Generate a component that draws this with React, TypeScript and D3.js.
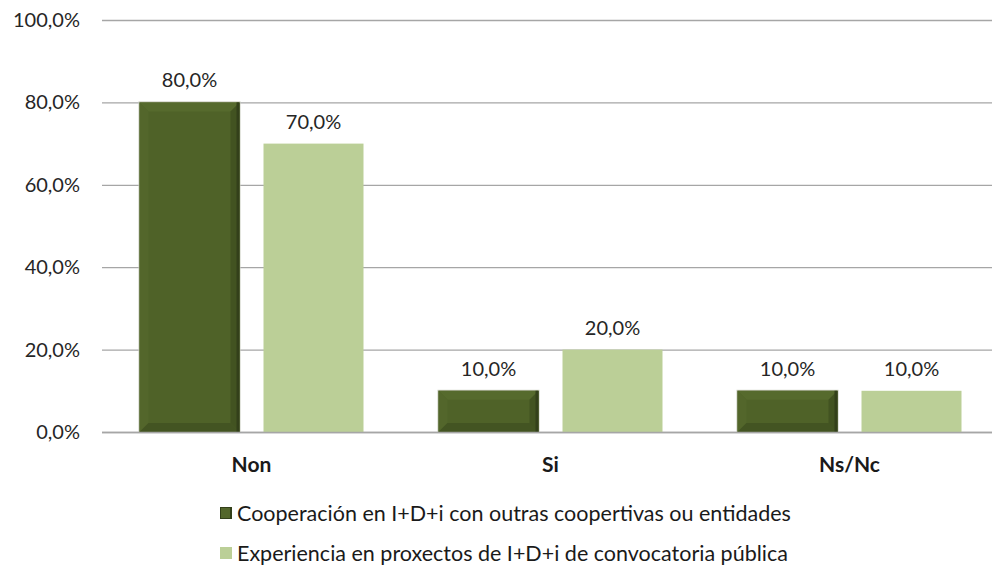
import { useEffect, useRef } from "react"
import * as d3 from "d3"

const categories = ["Non", "Si", "Ns/Nc"]
const seriesNames = [
  "Cooperación en I+D+i con outras coopertivas ou entidades",
  "Experiencia en proxectos de I+D+i de convocatoria pública",
]
const cooperacion = [80, 10, 10]
const experiencia = [70, 20, 10]
const yTicks = [0, 20, 40, 60, 80, 100]

const W = 992
const H = 566
const FONT = "Lato, 'Open Sans', sans-serif"

const App = () => {
  const ref = useRef<SVGSVGElement>(null)

  useEffect(() => {
    const svg = d3.select(ref.current)
    svg.selectAll("*").remove()

    const margin = { top: 20, right: -7, bottom: 134, left: 102 }
    const width = W - margin.left - margin.right
    const height = H - margin.top - margin.bottom

    const g = svg.append("g").attr("transform", `translate(${margin.left},${margin.top})`)

    const x = d3.scaleBand().domain(categories).range([0, width])
    const y = d3.scaleLinear().domain([0, 100]).range([height, 0])
    const inner = d3.scaleBand().domain(["a", "b"]).range([0, 224]).paddingInner(24 / 124)

    const fmt = (v: number) => v.toFixed(1).replace(".", ",") + "%"

    // gridlines
    g.selectAll(".grid")
      .data(yTicks)
      .enter()
      .append("line")
      .attr("x1", 0)
      .attr("x2", width)
      .attr("y1", (d) => y(d) + 0.5)
      .attr("y2", (d) => y(d) + 0.5)
      .attr("stroke", "#a6a6a6")
      .attr("stroke-width", 1.3)

    // y labels
    g.selectAll(".ylab")
      .data(yTicks)
      .enter()
      .append("text")
      .text((d) => fmt(d))
      .attr("x", -22)
      .attr("y", (d) => y(d))
      .attr("dy", "0.35em")
      .attr("text-anchor", "end")
      .attr("font-family", FONT)
      .attr("font-size", "20px")
      .attr("fill", "#262626")

    const offset = (x.bandwidth() - 224) / 2

    // light bars
    g.selectAll(".light")
      .data(experiencia)
      .enter()
      .append("rect")
      .attr("x", (d, i) => x(categories[i])! + offset + inner("b")!)
      .attr("y", (d) => y(d))
      .attr("width", inner.bandwidth())
      .attr("height", (d) => height - y(d))
      .attr("fill", "#bbcf97")

    // dark bevelled bars
    const bev = 9
    cooperacion.forEach((v, i) => {
      const x0 = x(categories[i])! + offset + inner("a")!
      const x1 = x0 + inner.bandwidth()
      const y0 = y(v)
      const y1 = height
      const b = Math.min(bev, (y1 - y0) / 2)
      const bar = g.append("g")
      bar.append("rect")
        .attr("x", x0 - 1).attr("y", y0 - 1)
        .attr("width", x1 - x0 + 2).attr("height", y1 - y0 + 2)
        .attr("fill", "#c8cbbd")
      bar.append("rect")
        .attr("x", x0).attr("y", y0)
        .attr("width", x1 - x0).attr("height", y1 - y0)
        .attr("fill", "#4f6228")
      const poly = (pts: [number, number][], fill: string) =>
        bar.append("polygon").attr("points", pts.map((p) => p.join(",")).join(" ")).attr("fill", fill)
      poly([[x0, y0], [x1, y0], [x1 - b, y0 + b], [x0 + b, y0 + b]], "#566a2d")
      poly([[x0, y0], [x0 + b, y0 + b], [x0 + b, y1 - b], [x0, y1]], "#53662b")
      poly([[x1, y0], [x1, y1], [x1 - b, y1 - b], [x1 - b, y0 + b]], "#425321")
      poly([[x0, y1], [x0 + b, y1 - b], [x1 - b, y1 - b], [x1, y1]], "#435422")
      bar.append("rect")
        .attr("x", x1 - 3).attr("y", y0)
        .attr("width", 3).attr("height", y1 - y0)
        .attr("fill", "#33401a")
    })

    // value labels
    const labels = [
      ...cooperacion.map((v, i) => ({ v, xc: x(categories[i])! + offset + inner("a")! + inner.bandwidth() / 2 })),
      ...experiencia.map((v, i) => ({ v, xc: x(categories[i])! + offset + inner("b")! + inner.bandwidth() / 2 })),
    ]
    g.selectAll(".vlab")
      .data(labels)
      .enter()
      .append("text")
      .text((d) => fmt(d.v))
      .attr("x", (d) => d.xc)
      .attr("y", (d) => y(d.v) - 15)
      .attr("text-anchor", "middle")
      .attr("font-family", FONT)
      .attr("font-size", "20px")
      .attr("fill", "#262626")

    // axis line
    g.append("line")
      .attr("x1", 0).attr("x2", width)
      .attr("y1", height + 0.5).attr("y2", height + 0.5)
      .attr("stroke", "#a6a6a6")
      .attr("stroke-width", 1.5)

    // category labels
    g.selectAll(".xlab")
      .data(categories)
      .enter()
      .append("text")
      .text((d) => d)
      .attr("x", (d) => x(d)! + x.bandwidth() / 2)
      .attr("y", height + 40)
      .attr("text-anchor", "middle")
      .attr("font-family", FONT)
      .attr("font-size", "21px")
      .attr("font-weight", "bold")
      .attr("fill", "#1a1a1a")

    // legend
    const legend = svg.append("g").attr("transform", "translate(220,507)")
    seriesNames.forEach((name, i) => {
      const row = legend.append("g").attr("transform", `translate(0,${i * 40})`)
      if (i === 0) {
        row.append("rect").attr("x", 0).attr("y", 0).attr("width", 12).attr("height", 12).attr("fill", "#33401a")
        row.append("rect").attr("x", 1).attr("y", 1).attr("width", 9).attr("height", 10).attr("fill", "#53662b")
      } else {
        row.append("rect").attr("x", 0).attr("y", 0).attr("width", 12).attr("height", 12).attr("fill", "#bbcf97")
      }
      row.append("text")
        .text(name)
        .attr("x", 17)
        .attr("y", 6)
        .attr("dy", "0.35em")
        .attr("font-family", FONT)
        .attr("font-size", "21.5px")
        .attr("fill", "#1a1a1a")
    })
  }, [])

  return <svg ref={ref} width={W} height={H} style={{ display: "block", position: "absolute", left: 0, top: 0 }} />
}

export default App
